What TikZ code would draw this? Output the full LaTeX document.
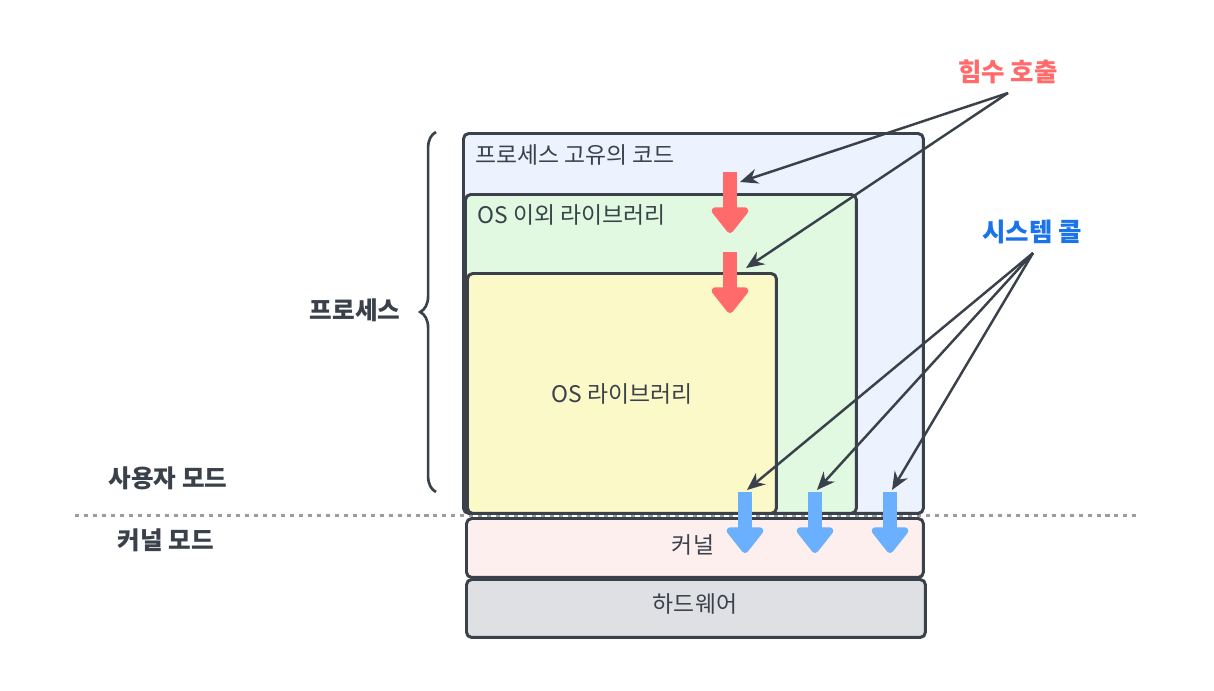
\documentclass[tikz,border=0pt]{standalone}
\usepackage{fontspec}
\setmainfont{Noto Sans CJK KR}
\usepackage{tikz}
\usetikzlibrary{arrows.meta, positioning, calc, decorations.pathreplacing}

\definecolor{ink}{HTML}{3A414A}
\definecolor{procfill}{HTML}{EDF3FE}
\definecolor{libfill}{HTML}{E0F9E0}
\definecolor{osfill}{HTML}{FBF9C8}
\definecolor{kernfill}{HTML}{FDEFEE}
\definecolor{hwfill}{HTML}{DEE0E4}
\definecolor{callred}{HTML}{FF6B6B}
\definecolor{sysblue}{HTML}{6AB0FF}
\definecolor{labelblue}{HTML}{1A73E8}
\definecolor{modegray}{HTML}{9A9CA3}

\begin{document}
\begin{tikzpicture}[x=0.02cm, y=-0.02cm,
    box/.style={rectangle, draw=ink, line width=1.7pt, rounded corners=3pt, anchor=north west, inner sep=0pt},
    boxtext/.style={font=\fontsize{13}{15}\selectfont, text=ink, inner sep=0pt},
    modetext/.style={font=\fontsize{14}{16}\selectfont\bfseries, text=ink},
    fatarrow/.style={line width=0.28cm, -{Triangle[length=0.56cm, width=0.84cm, round]}},
    pointer/.style={draw=ink, line width=1.4pt, -{Stealth[length=0.36cm, width=0.3cm]}}
]
\useasboundingbox (0,0) rectangle (1214,690);

% User / kernel mode border
\draw[modegray, line width=1.7pt, dash pattern=on 2.3pt off 2.8pt] (75,515) -- (1140,515);

% Boxes
\node[box, fill=procfill, minimum width=9.2cm, minimum height=7.6cm] (proc) at (462,132) {};
\node[box, fill=libfill, minimum width=7.82cm, minimum height=6.38cm] (lib) at (464,193) {};
\node[box, fill=osfill, minimum width=6.18cm, minimum height=4.8cm] (oslib) at (466,272) {};
\node[box, fill=kernfill, minimum width=9.14cm, minimum height=1.18cm] (kernel) at (465,517) {};
\node[box, fill=hwfill, minimum width=9.18cm, minimum height=1.16cm] (hw) at (465,578) {};

\node[boxtext, anchor=west] (proctext) at (475,155) {프로세스 고유의 코드};
\node[boxtext, anchor=west] (libtext) at (477,215) {OS 이외 라이브러리};
\node[boxtext] (ostext) at (oslib.center) {OS 라이브러리};
\node[boxtext] (kerntext) at (693,545) {커널};
\node[boxtext] (hwtext) at (695,604) {하드웨어};

% Process brace
\draw[ink, line width=1.5pt, decorate, decoration={brace, amplitude=9pt}] (436,492) -- (436,132);
\node[modetext] (proclabel) at (355,310) {프로세스};
\node[modetext] (userlabel) at (168,478) {사용자 모드};
\node[modetext] (kernlabel) at (166,540) {커널 모드};

% Function calls
\coordinate (f1) at (730,172);
\coordinate (f2) at (730,252);
\draw[fatarrow, callred] (f1) -- ++(0,61);
\draw[fatarrow, callred] (f2) -- ++(0,61);

\node[font=\fontsize{14.5}{17}\selectfont\bfseries, text=callred] (calllabel) at (1008,72) {힘수 호출};
\coordinate (callsrc) at (1008,93);
\draw[pointer] (callsrc) -- (740,182);
\draw[pointer] (callsrc) -- (746,268);

% System calls
\coordinate (s1) at (745,492);
\coordinate (s2) at (815,492);
\coordinate (s3) at (890,492);
\foreach \s in {s1, s2, s3}
    \draw[fatarrow, sysblue] (\s) -- ++(0,61);

\node[font=\fontsize{14.5}{17}\selectfont\bfseries, text=labelblue] (syslabel) at (1032,232) {시스템 콜};
\coordinate (syssrc) at (1033,253);
\foreach \s in {s1, s2, s3}
    \draw[pointer] (syssrc) -- ($(\s)+(2,-2)$);

\end{tikzpicture}
\end{document}
